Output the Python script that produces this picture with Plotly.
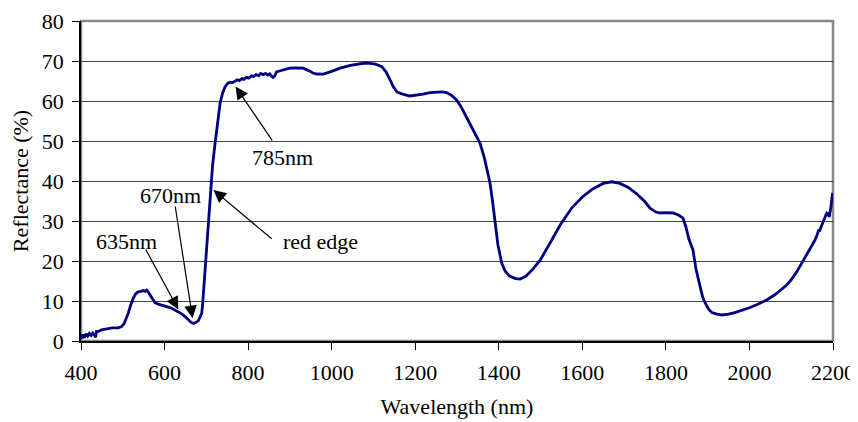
import plotly.graph_objects as go

wavelength = [400, 404, 408, 412, 416, 420, 424, 428, 432, 435, 437, 442, 449, 457, 465, 475, 489, 497, 503, 508,
              513, 519, 525, 531, 537, 543, 549, 553, 557, 561, 565, 571, 577, 585, 593, 605, 617, 625, 633, 641,
              649, 657, 663, 669, 675, 681, 686, 689, 691, 693, 697, 700, 705, 710, 715, 721, 727, 733, 739, 745,
              751, 757, 763, 769, 774, 779, 785, 790, 796, 802, 808, 813, 819, 825, 830, 836, 842, 847, 852, 856,
              860, 864, 868, 875, 885, 900, 915, 932, 945, 955, 964, 980, 1000, 1020, 1045, 1068, 1080, 1092, 1105, 1120,
              1130, 1140, 1148, 1156, 1170, 1187, 1203, 1219, 1235, 1251, 1265, 1275, 1287, 1299, 1310, 1325, 1340, 1355, 1365, 1373,
              1379, 1385, 1391, 1398, 1407, 1415, 1425, 1440, 1451, 1465, 1480, 1499, 1520, 1547, 1575, 1600, 1625, 1650, 1670, 1690,
              1710, 1730, 1750, 1762, 1775, 1786, 1800, 1817, 1830, 1841, 1848, 1855, 1865, 1872, 1882, 1888, 1894, 1902, 1910, 1922,
              1934, 1950, 1965, 1985, 2000, 2020, 2041, 2060, 2075, 2089, 2100, 2112, 2125, 2140, 2157, 2163, 2165, 2168, 2172, 2178,
              2181, 2185, 2188, 2191, 2195, 2199]
reflectance = [0.5, 1.6, 0.8, 1.8, 1.2, 1.9, 1.4, 2.0, 1.5, 0.9, 2.4, 2.4, 2.8, 3.0, 3.2, 3.3, 3.3, 3.6, 4.3, 5.5,
               6.9, 9.0, 10.7, 11.8, 12.3, 12.4, 12.6, 12.4, 12.7, 12.2, 11.5, 10.4, 9.6, 9.2, 9.0, 8.6, 8.2, 7.7, 7.4, 6.8,
               6.1, 5.2, 4.7, 4.4, 4.6, 5.1, 6.0, 6.9, 9.0, 11.9, 17.8, 20.5, 28.0, 37.5, 44.0, 49.5, 55.0, 59.5, 62.0, 63.6,
               64.4, 64.7, 64.6, 64.9, 65.3, 65.1, 65.6, 65.4, 65.9, 65.7, 66.3, 66.1, 66.6, 66.3, 66.9, 66.6, 66.9, 66.5, 66.8, 66.2,
               65.9, 66.3, 67.3, 67.5, 67.8, 68.2, 68.3, 68.2, 67.6, 67.0, 66.75, 66.7, 67.4, 68.2, 68.9, 69.4, 69.5, 69.4, 69.2, 68.6,
               67.3, 65.25, 63.5, 62.3, 61.7, 61.25, 61.4, 61.7, 62.1, 62.3, 62.3, 62.1, 61.4, 60.25, 58.5, 55.5, 52.5, 49.5, 46.0, 42.5,
               39.5, 35.0, 29.8, 24.0, 19.5, 17.5, 16.3, 15.6, 15.5, 16.2, 17.8, 20.2, 24.0, 29.0, 33.3, 36.0, 38.0, 39.4, 39.8, 39.4,
               38.4, 36.8, 34.8, 33.2, 32.3, 32.0, 32.1, 32.0, 31.5, 30.7, 28.5, 25.5, 22.7, 18.0, 13.6, 11.0, 9.5, 8.0, 7.1, 6.7,
               6.5, 6.7, 7.1, 7.75, 8.3, 9.2, 10.25, 11.5, 12.7, 14.0, 15.3, 17.1, 19.4, 22.2, 25.25, 26.8, 27.6, 27.6, 28.6, 30.2,
               31.0, 32.0, 31.8, 31.0, 33.5, 37.0]

x_ticks = [400, 600, 800, 1000, 1200, 1400, 1600, 1800, 2000, 2200]
y_ticks = [0, 10, 20, 30, 40, 50, 60, 70, 80]

# annotation labels with text position, arrow tail and arrow head (data units)
labels = ["785nm", "red edge", "635nm", "670nm"]
label_pos = [(883, 46), (974, 25), (510, 25), (615, 36.5)]
arrow_tail = [(860, 49.8), (860, 25.25), (553, 23.25), (625, 34)]
arrow_head = [(770, 63.6), (717, 37.75), (633, 7.9), (667, 5.7)]

FONT = "Liberation Serif, Times New Roman, serif"

fig = go.Figure()
fig.add_trace(go.Scatter(x=wavelength, y=reflectance, mode="lines",
                         line=dict(color="#000080", width=2.8), showlegend=False))

for t, (tx, ty), (ax_, ay_), (hx, hy) in zip(labels, label_pos, arrow_tail, arrow_head):
    fig.add_annotation(x=hx, y=hy, ax=ax_, ay=ay_, xref="x", yref="y", axref="x", ayref="y",
                       text="", showarrow=True, arrowhead=2, arrowsize=2.1, arrowwidth=1.2,
                       arrowcolor="black", standoff=0, startstandoff=0)
    fig.add_annotation(x=tx, y=ty, xref="x", yref="y", text=t, showarrow=False,
                       font=dict(family=FONT, size=22, color="black"))

# gray outer frame (top/right)
fig.add_shape(type="rect", xref="paper", yref="paper", x0=0, y0=0, x1=1, y1=1,
              line=dict(color="#888888", width=2.5), layer="below")

# the page body has an 8px margin, so the figure is sized/offset to compensate
fig.update_layout(
    width=850, height=414,
    margin=dict(l=73, r=25, t=13, b=81),
    paper_bgcolor="white", plot_bgcolor="white",
    font=dict(family=FONT, size=22, color="black"),
    xaxis=dict(range=[400, 2200], tickvals=x_ticks, ticktext=[str(v) for v in x_ticks],
               showgrid=False, zeroline=False, showline=True, linecolor="black", linewidth=1.5,
               ticks="outside", ticklen=7, tickwidth=1.2, tickcolor="black", automargin=False,
               ticklabelstandoff=4,
               tickfont=dict(family=FONT, size=22),
               title=dict(text="Wavelength (nm)", font=dict(family=FONT, size=22), standoff=14)),
    yaxis=dict(range=[0, 80], tickvals=y_ticks, ticktext=[str(v) for v in y_ticks],
               showgrid=True, gridcolor="#444444", gridwidth=1.3, zeroline=False,
               showline=True, linecolor="black", linewidth=1.5, automargin=False,
               ticks="outside", ticklen=7, tickwidth=1.2, tickcolor="black",
               ticklabelstandoff=4,
               tickfont=dict(family=FONT, size=22),
               title=dict(text="Reflectance (%)", font=dict(family=FONT, size=22), standoff=10)),
)

fig.write_html("out.html")
